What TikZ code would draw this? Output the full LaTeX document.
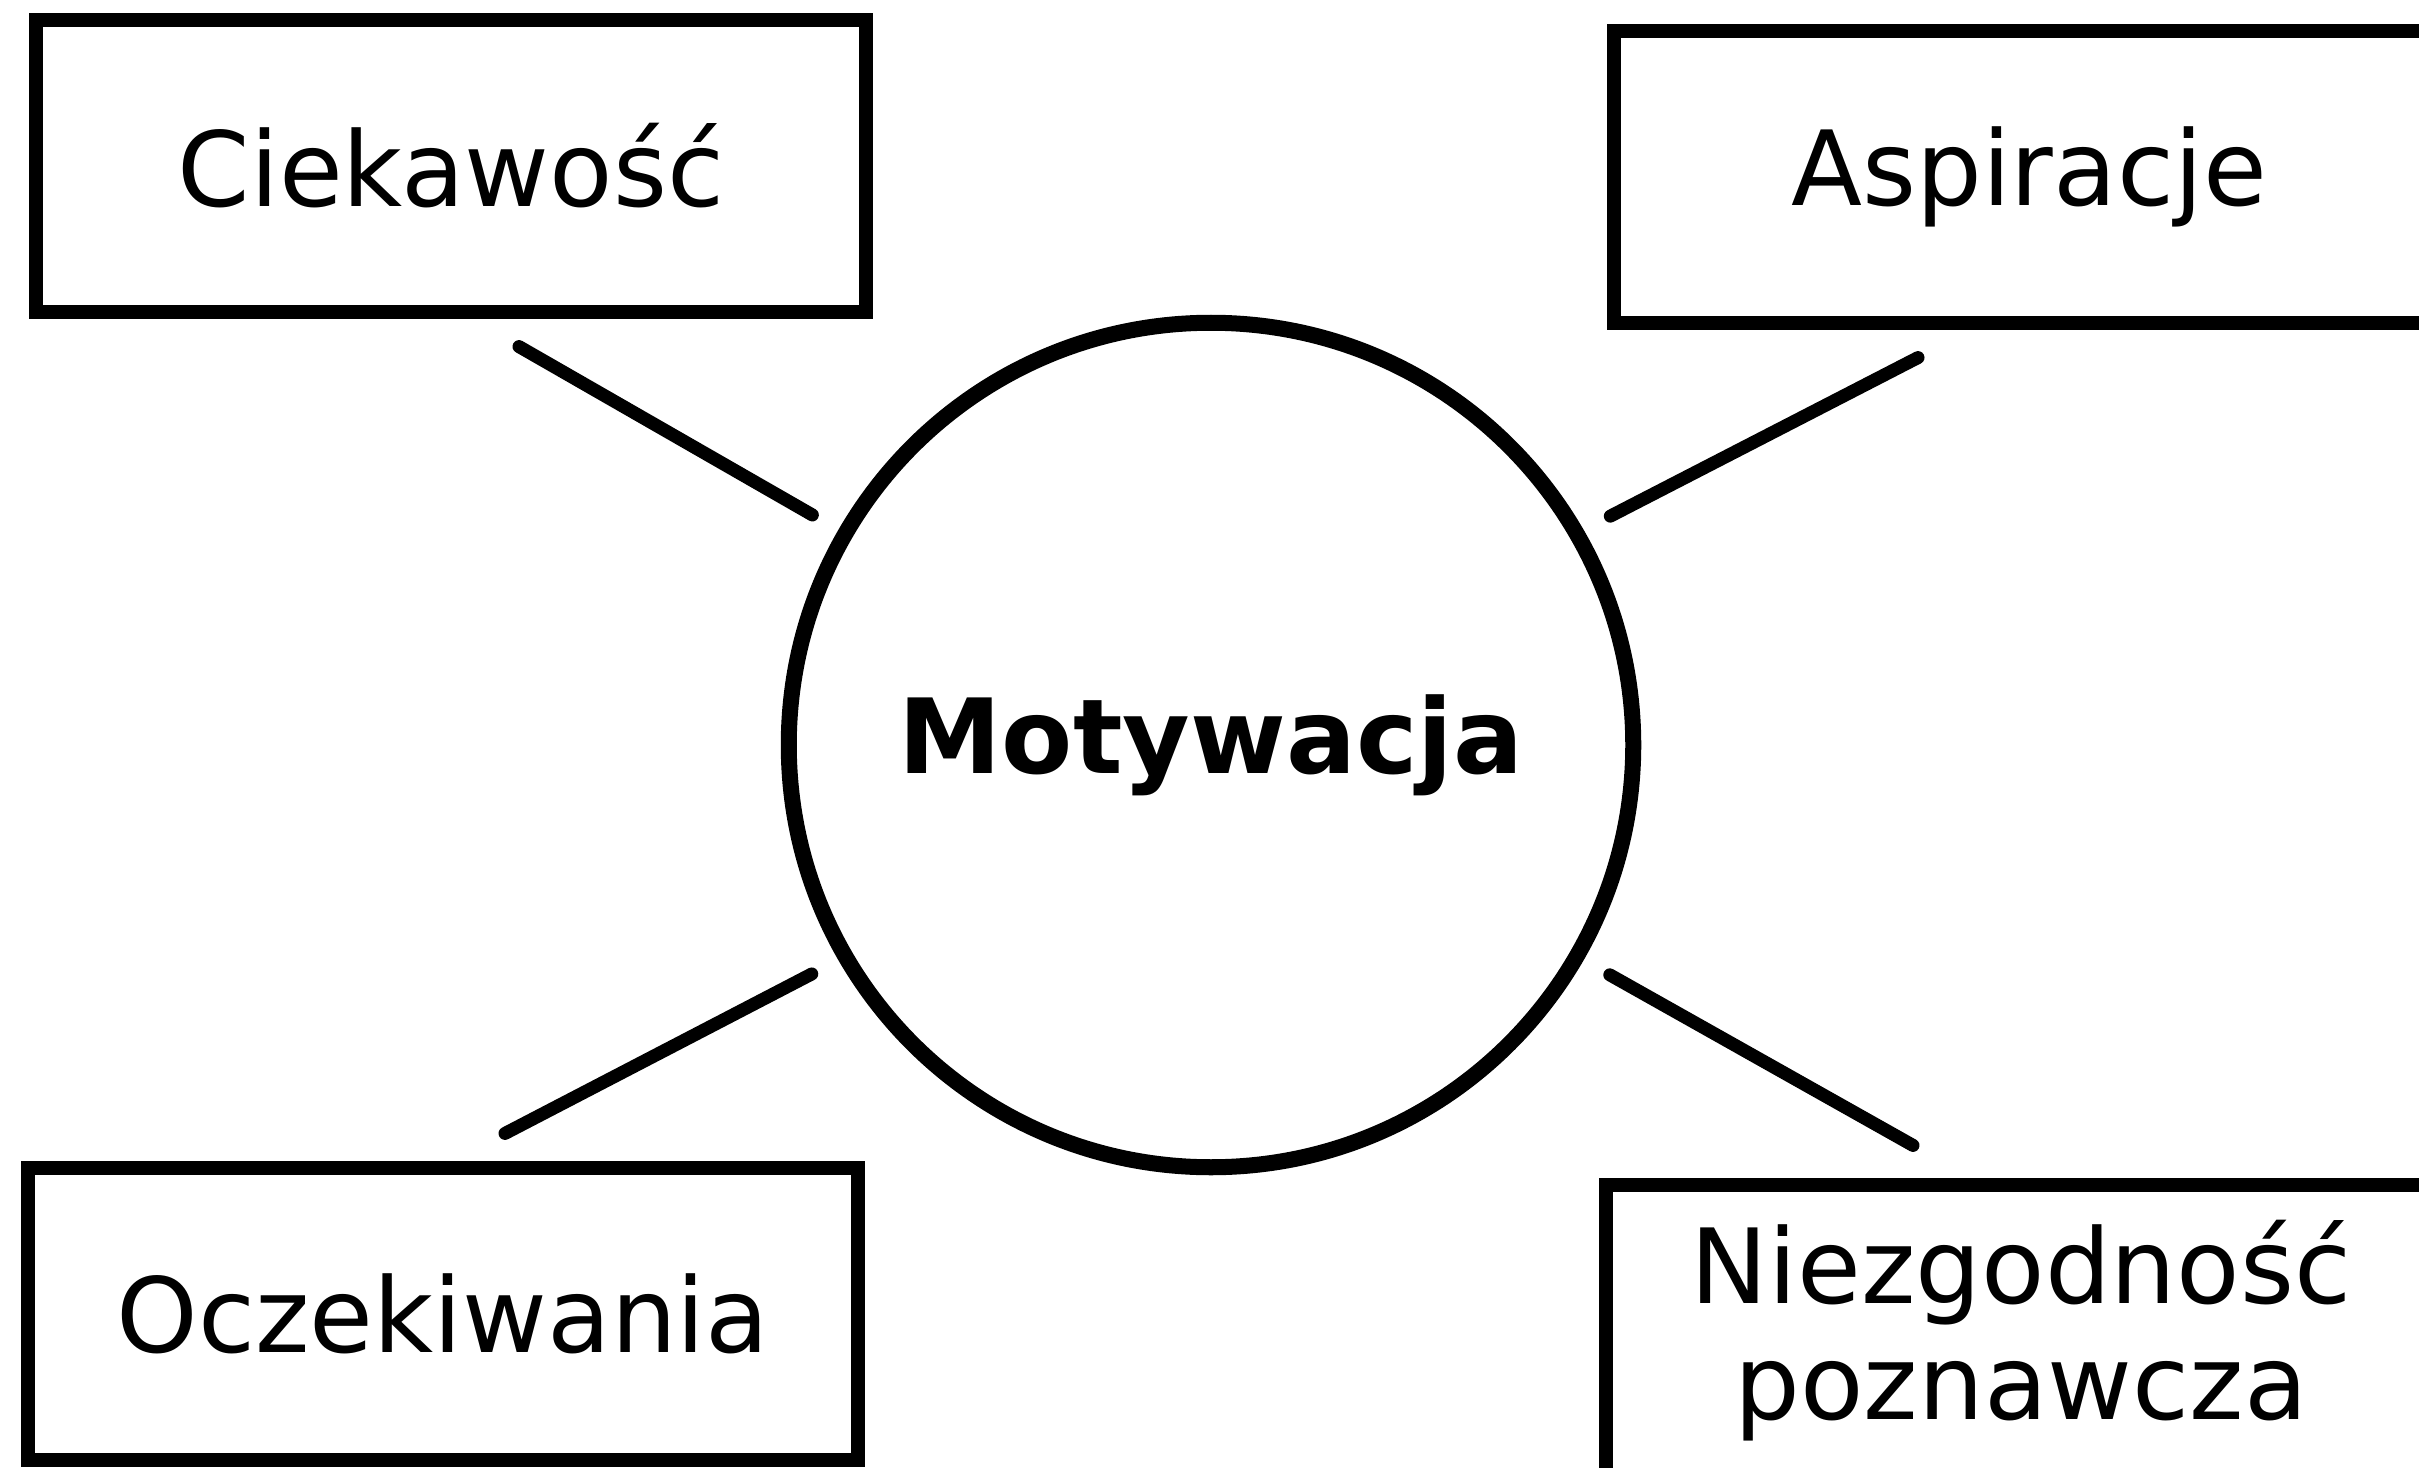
\documentclass[tikz,border=0pt]{standalone}
\usepackage{fontspec}
\setmainfont{DejaVu Sans}
\usetikzlibrary{positioning}

\begin{document}
\begin{tikzpicture}[
x=0.01cm, y=-0.01cm,
centernode/.style={circle, draw=black, line width=0.16cm, minimum size=8.44cm, inner sep=0pt, font=\fontsize{29.5}{33}\selectfont\bfseries},
squarednode/.style={rectangle, draw=black, line width=0.14cm, minimum width=8.29cm, minimum height=2.91cm, align=center, font=\fontsize{29.5}{33}\selectfont},
link/.style={line width=0.13cm, line cap=round, shorten <=0.3cm},
]
\useasboundingbox (0,0) rectangle (2419,1467);

%Nodes
\node[centernode]   at (1211,745)   (motywacja)     [] {Motywacja};

\node[squarednode]  at (451,166)    (ciekawosc)     [] {Ciekawość};
\node[squarednode]  at (2029,177)   (aspiracje)     [] {Aspiracje};
\node[squarednode]  at (443,1314)   (oczekiwania)   [] {Oczekiwania};
\node[squarednode]  at (2021,1331)  (niezgodnosc)   [] {Niezgodność\\poznawcza};

%Lines
\draw[link] (motywacja.150) -- ([shift={(68,28)}]ciekawosc.south);
\draw[link] (motywacja.30)  -- ([shift={(-111,28)}]aspiracje.south);
\draw[link] (motywacja.210) -- ([shift={(62,-28)}]oczekiwania.north);
\draw[link] (motywacja.330) -- ([shift={(-108,-33)}]niezgodnosc.north);

\end{tikzpicture}
\end{document}
